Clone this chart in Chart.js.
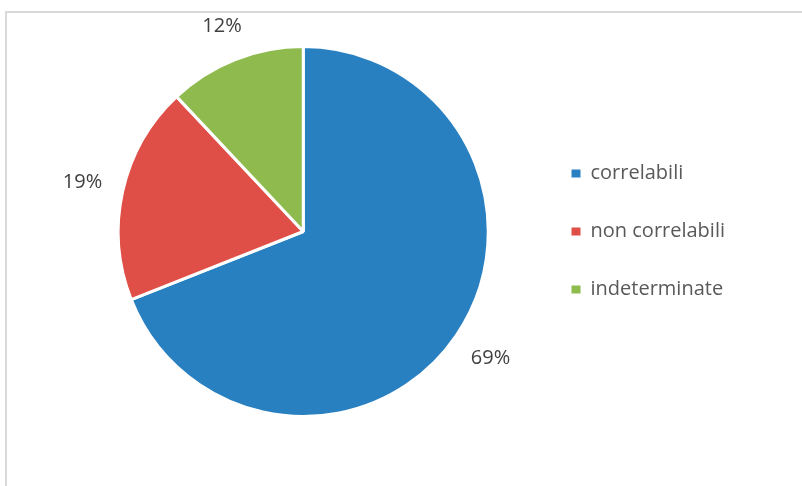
<!DOCTYPE html>
<html>
<head>
<meta charset="utf-8">
<script src="https://cdn.jsdelivr.net/npm/chart.js@4/dist/chart.umd.min.js"></script>
<style>
  html, body { margin: 0; padding: 0; background: #fff; overflow: hidden; }
  #frame { position: absolute; left: 5px; top: 11px; width: 900px; height: 600px;
           border-left: 2px solid #d9d9d9; border-top: 2px solid #d9d9d9; }
  #wrap { position: absolute; left: 0; top: 0; width: 802px; height: 486px; }
</style>
</head>
<body>
<div id="frame"></div>
<div id="wrap"><canvas id="pie"></canvas></div>
<script>
// data
var categories = ['correlabili', 'non correlabili', 'indeterminate'];
var values = [69, 19, 12];
var colors = ['#2980c1', '#e04f47', '#8fbb4e'];

// percent labels outside each slice
var outsideLabels = {
    id: 'outsideLabels',
    afterDatasetsDraw: function (chart) {
        var ctx = chart.ctx;
        var meta = chart.getDatasetMeta(0);
        var total = values.reduce(function (a, b) { return a + b; }, 0);
        ctx.save();
        ctx.font = '20px "Open Sans"';
        ctx.fillStyle = '#404040';
        ctx.textAlign = 'center';
        ctx.textBaseline = 'middle';
        meta.data.forEach(function (arc, i) {
            var p = arc.getProps(['x', 'y', 'startAngle', 'endAngle', 'outerRadius'], true);
            var mid = (p.startAngle + p.endAngle) / 2;
            var text = Math.round(values[i] / total * 100) + '%';
            var hw = ctx.measureText(text).width / 2;
            var hh = 9;
            var c = Math.cos(mid), s = Math.sin(mid);
            var r = p.outerRadius + 20 + hw * Math.abs(c) + hh * Math.abs(s);
            ctx.fillText(text, p.x + c * r, p.y + s * r);
        });
        ctx.restore();
    }
};

var ctx = document.getElementById('pie').getContext('2d');
var pieChart = new Chart(ctx, {
    type: 'pie',
    data: {
        labels: categories,
        datasets: [{
            data: values,
            backgroundColor: colors,
            borderColor: '#ffffff',
            borderWidth: 3
        }]
    },
    options: {
        responsive: true,
        maintainAspectRatio: false,
        animation: false,
        layout: {
            padding: { left: 73, right: 67, top: 45, bottom: 68 }
        },
        plugins: {
            tooltip: { enabled: false },
            legend: {
                position: 'right',
                labels: {
                    boxWidth: 9,
                    boxHeight: 8,
                    padding: 38,
                    color: '#595959',
                    font: { family: 'Open Sans', size: 20 },
                    generateLabels: function (chart) {
                        // no white stroke round the legend squares
                        var items = Chart.controllers.pie.overrides.plugins.legend.labels.generateLabels(chart);
                        items.forEach(function (it) { it.lineWidth = 0; it.strokeStyle = 'rgba(0,0,0,0)'; });
                        return items;
                    }
                }
            }
        }
    },
    plugins: [outsideLabels]
});
</script>
</body>
</html>
